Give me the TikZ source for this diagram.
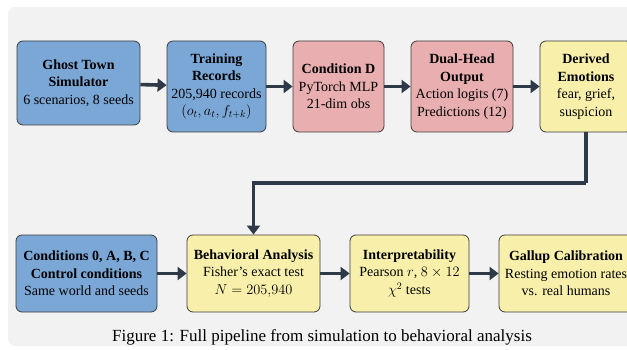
\documentclass[tikz,border=0pt]{standalone}
\usepackage{amsmath,amssymb}
\usepackage{fontspec}
\setmainfont{Liberation Serif}
\usepackage{xcolor}
\usepackage{tikz}
\usetikzlibrary{arrows.meta}
\definecolor{PipeBlue}{HTML}{7BA7D7}
\definecolor{PipeRed}{HTML}{E8AEB0}
\definecolor{PipeYellow}{HTML}{F8F0AA}
\definecolor{PipeEdge}{HTML}{3C3C3C}
\definecolor{PipeArrow}{HTML}{2F3A48}
\definecolor{PipePanel}{HTML}{F2F2F2}
\tikzset{
  stage/.style={draw=PipeEdge,line width=0.8pt,rounded corners=6pt,align=center,
    font=\fontsize{14}{17.5}\selectfont,inner sep=2pt},
  flow/.style={-{Triangle[length=9pt,width=13pt]},line width=3.6pt,PipeArrow}
}

\begin{document}
\begin{tikzpicture}[x=1pt,y=-1pt]
\useasboundingbox (0,0) rectangle (627,350);
\fill[PipePanel,rounded corners=7pt] (8,7) rectangle (660,346);
% top row
\node[stage,fill=PipeBlue,minimum width=123pt,minimum height=84pt] (sim) at (78.5,83) {\textbf{Ghost Town}\\\textbf{Simulator}\\6 scenarios, 8 seeds};
\node[stage,fill=PipeBlue,minimum width=99pt,minimum height=91pt] (rec) at (216.5,86.5) {\textbf{Training}\\\textbf{Records}\\205,940 records\\$(o_t, a_t, f_{t+k})$};
\node[stage,fill=PipeRed,minimum width=91pt,minimum height=91pt] (cond) at (338.5,86.5) {\textbf{Condition D}\\PyTorch MLP\\21-dim obs};
\node[stage,fill=PipeRed,minimum width=102pt,minimum height=91pt] (head) at (462,86.5) {\textbf{Dual-Head}\\\textbf{Output}\\Action logits (7)\\Predictions (12)};
\node[stage,fill=PipeYellow,minimum width=92pt,minimum height=91pt] (emo) at (586,86.5) {\textbf{Derived}\\\textbf{Emotions}\\fear, grief,\\suspicion};
% bottom row
\node[stage,fill=PipeBlue,minimum width=141pt,minimum height=77pt] (ctrl) at (86.5,273.5) {\textbf{Conditions 0, A, B, C}\\\textbf{Control conditions}\\Same world and seeds};
\node[stage,fill=PipeYellow,minimum width=133pt,minimum height=77pt] (beh) at (253.5,273.5) {\textbf{Behavioral Analysis}\\Fisher's exact test\\$N = 205{,}940$};
\node[stage,fill=PipeYellow,minimum width=119pt,minimum height=77pt] (interp) at (409.5,273.5) {\textbf{Interpretability}\\Pearson $r$, $8 \times 12$\\$\chi^2$ tests};
\node[stage,fill=PipeYellow,minimum width=134pt,minimum height=77pt] (gallup) at (566,273.5) {\textbf{Gallup Calibration}\\Resting emotion rates\\vs. real humans};
\coordinate (elbow) at (586,183);
\draw[flow] (sim)--(rec);
\draw[flow] (rec)--(cond);
\draw[flow] (cond)--(head);
\draw[flow] (head)--(emo);
\draw[flow,-] (emo.south)--(elbow);
\draw[flow] (elbow)-|(beh.north);
\draw[flow] (ctrl)--(beh);
\draw[flow] (beh)--(interp);
\draw[flow] (interp)--(gallup);
\node[font=\fontsize{17}{20}\selectfont] (cap) at (322,337) {Figure 1: Full pipeline from simulation to behavioral analysis};
\end{tikzpicture}
\end{document}
